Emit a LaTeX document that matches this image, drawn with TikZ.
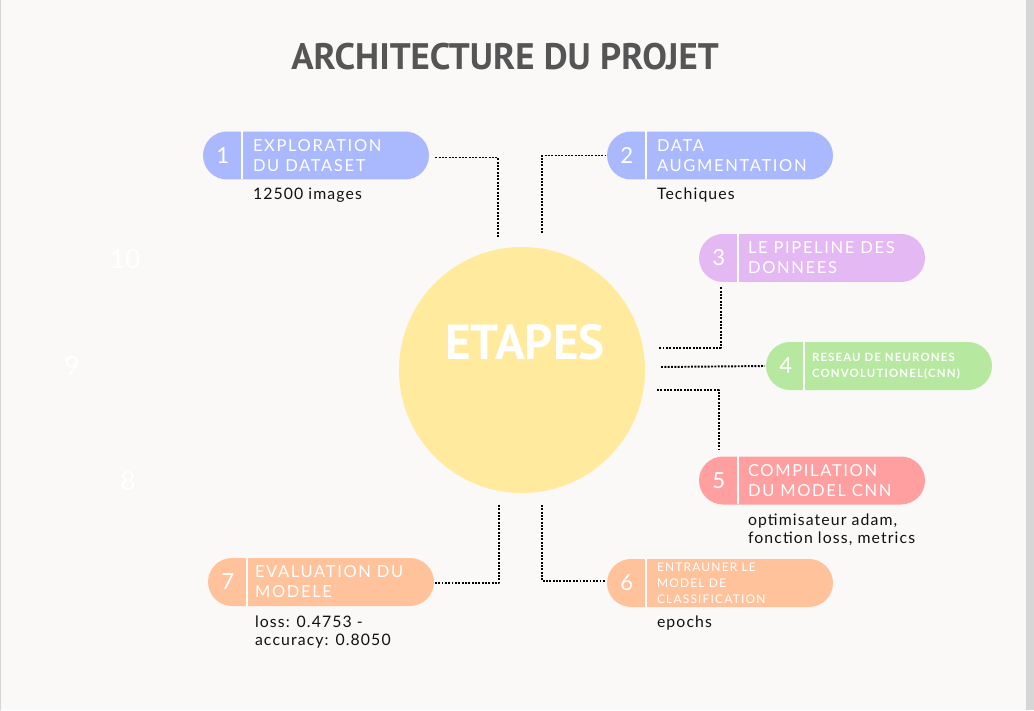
\documentclass[tikz,border=0pt]{standalone}
\usepackage{fontspec}
\setmainfont{Lato}
\newfontfamily\titlefont{PT Sans}
\newfontfamily\pillfont[LetterSpace=10]{Lato}
\newfontfamily\subfont[LetterSpace=7]{Lato}
\usetikzlibrary{calc}

\definecolor{fond}{HTML}{FAF9F7}
\definecolor{bord}{HTML}{D6D6D6}
\definecolor{titre}{HTML}{555555}
\definecolor{encre}{HTML}{111111}
\definecolor{soleil}{HTML}{FFEA9E}
\definecolor{bleu}{HTML}{AAB8FE}
\definecolor{lilas}{HTML}{E4B8F3}
\definecolor{vert}{HTML}{B7E8A0}
\definecolor{rose}{HTML}{FF9F9F}
\definecolor{peche}{HTML}{FFC29A}

\begin{document}
\begin{tikzpicture}[x=0.02cm,y=-0.02cm,line cap=round,line join=round,
    pill/.style={minimum width=4.52cm,minimum height=0.96cm,rounded corners=0.48cm,inner sep=0pt},
    divider/.style={white,line width=1.2pt,line cap=butt},
    num/.style={text=white,inner sep=0pt,font=\fontsize{12.6}{14}\selectfont},
    lab/.style={anchor=west,text=white,align=left,inner sep=0pt,font=\pillfont\fontsize{9.4}{11.4}\selectfont},
    sub/.style={anchor=north west,align=left,inner sep=0pt,text=encre,font=\subfont\fontsize{9}{10.2}\selectfont},
    ghost/.style={text=white,font=\fontsize{15}{16}\selectfont},
    link/.style={line width=1.1pt,line cap=butt,dash pattern=on 1.1pt off 0.8pt}]
  \useasboundingbox (0,0) rectangle (1034,710);
  \fill[fond] (0,0) rectangle (1034,710);
  \fill[bord] (1026,0) rectangle (1034,710);
  \draw[bord,line width=0.8pt] (0.5,0) -- (0.5,710);

  % titre et cercle central
  \node[text=titre,font=\titlefont\bfseries\fontsize{21}{25}\selectfont] (titre) at (505,57) {ARCHITECTURE DU PROJET};
  \fill[soleil] (522,370) circle (123);
  \node[text=white,font=\titlefont\bfseries\fontsize{28}{32}\selectfont] (etapes) at (525,342) {ETAPES};

  % numeros fantomes
  \node[ghost] (g10) at (125,259) {10};
  \node[ghost] (g9) at (72,366) {9};
  \node[ghost] (g8) at (128,481) {8};

  % etape 1
  \node[pill,fill=bleu] (p1) at (316,155.5) {};
  \draw[divider] ($(p1.north west)+(39,0)$) -- ++(0,48);
  \node[num] (n1) at ($(p1.west)+(20,0)$) {1};
  \node[lab] (l1) at ($(p1.west)+(50,0)$) {EXPLORATION\\DU DATASET};
  \node[sub] (s1) at ($(p1.south west)+(50,8)$) {12500 images};

  % etape 2
  \node[pill,fill=bleu] (p2) at (720,155.5) {};
  \draw[divider] ($(p2.north west)+(39,0)$) -- ++(0,48);
  \node[num] (n2) at ($(p2.west)+(20,0)$) {2};
  \node[lab] (l2) at ($(p2.west)+(50,0)$) {DATA\\AUGMENTATION};
  \node[sub] (s2) at ($(p2.south west)+(50,8)$) {Techiques};

  % etape 3
  \node[pill,fill=lilas] (p3) at (812,258) {};
  \draw[divider] ($(p3.north west)+(39,0)$) -- ++(0,48);
  \node[num] (n3) at ($(p3.west)+(20,0)$) {3};
  \node[lab] (l3) at ($(p3.west)+(49,0)$) {LE PIPELINE DES\\DONNEES};

  % etape 4
  \node[pill,fill=vert] (p4) at (879,366) {};
  \draw[divider] ($(p4.north west)+(38,0)$) -- ++(0,48);
  \node[num] (n4) at ($(p4.west)+(20,0)$) {4};
  \node[lab,font=\pillfont\bfseries\fontsize{6.5}{9.1}\selectfont] (l4) at ($(p4.west)+(46,0)$) {RESEAU DE NEURONES\\CONVOLUTIONEL(CNN)};

  % etape 5
  \node[pill,fill=rose] (p5) at (812,480.5) {};
  \draw[divider] ($(p5.north west)+(39,0)$) -- ++(0,48);
  \node[num] (n5) at ($(p5.west)+(20,0)$) {5};
  \node[lab] (l5) at ($(p5.west)+(49,0)$) {COMPILATION\\DU MODEL CNN};
  \node[sub] (s5) at ($(p5.south west)+(49,9)$) {optimisateur adam,\\fonction loss, metrics};

  % etape 6
  \node[pill,fill=peche] (p6) at (720,583) {};
  \draw[divider] ($(p6.north west)+(39,0)$) -- ++(0,48);
  \node[num] (n6) at ($(p6.west)+(20,0)$) {6};
  \node[lab,font=\pillfont\fontsize{6.8}{9.1}\selectfont] (l6) at ($(p6.west)+(50,0)$) {ENTRAUNER LE\\MODEL DE\\CLASSIFICATION};
  \node[sub] (s6) at ($(p6.south west)+(50,8)$) {epochs};

  % etape 7
  \node[pill,fill=peche] (p7) at (321,582) {};
  \draw[divider] ($(p7.north west)+(39,0)$) -- ++(0,48);
  \node[num] (n7) at ($(p7.west)+(20,0)$) {7};
  \node[lab] (l7) at ($(p7.west)+(47,0)$) {EVALUATION DU\\MODELE};
  \node[sub] (s7) at ($(p7.south west)+(47,9)$) {loss: 0.4753 -\\accuracy: 0.8050};

  % liaisons en pointilles
  \coordinate (e1) at (498,237);
  \coordinate (e2) at (542,233);
  \coordinate (e3) at (658,348);
  \coordinate (e4) at (661,367);
  \coordinate (e5) at (657,390);
  \coordinate (e6) at (542,505);
  \coordinate (e7) at (499,505);
  \draw[link] ($(p1.east)+(6,2)$) -| (e1);
  \draw[link] (e2) |- ($(p2.west)+(-1,0)$);
  \draw[link] ($(p3.south west)+(22,5)$) |- (e3);
  \draw[link] (e4) -- ($(p4.west)+(-1,0)$);
  \draw[link] (e5) -| ($(p5.north west)+(20,-6)$);
  \draw[link] (e6) |- ($(p6.west)+(-1,-2)$);
  \draw[link] (e7) |- ($(p7.east)+(1,1)$);
\end{tikzpicture}
\end{document}
